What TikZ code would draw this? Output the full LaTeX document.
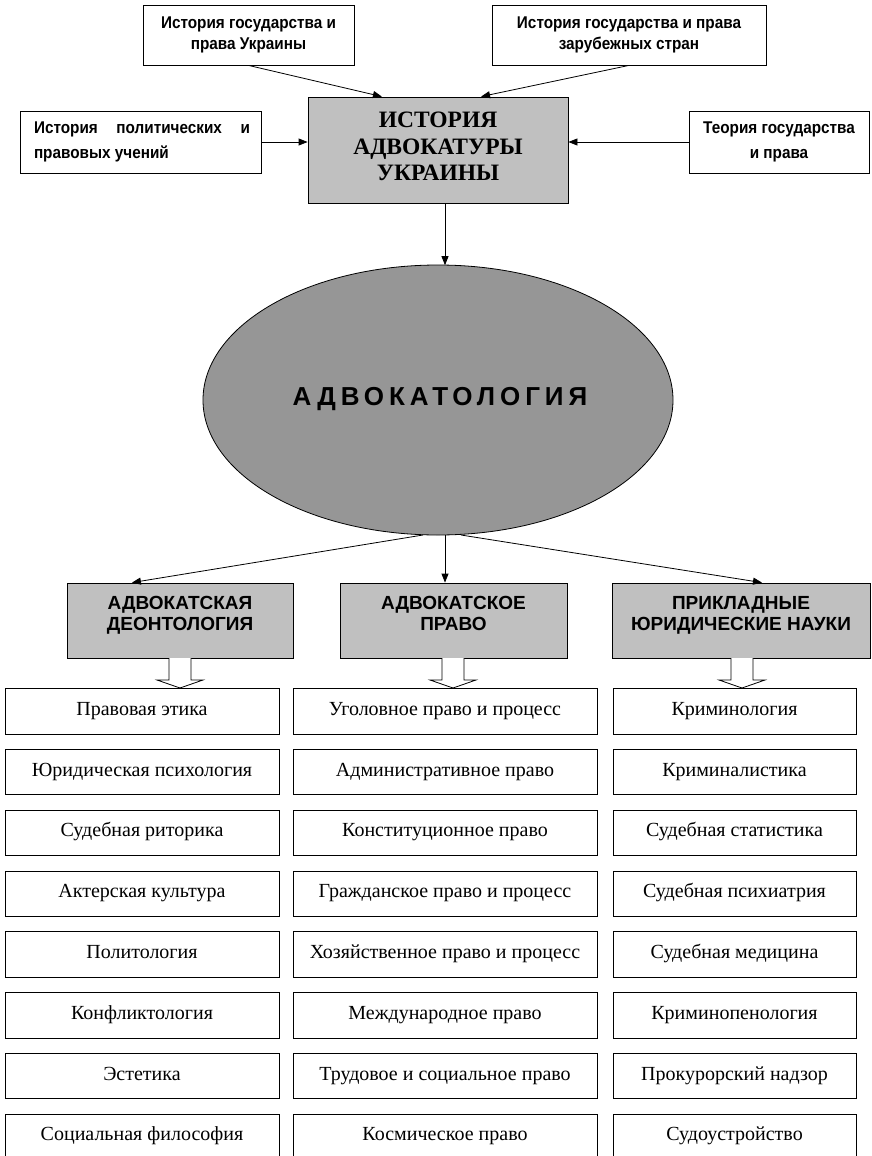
\documentclass[tikz,border=0pt]{standalone}
\usepackage{fontspec}
\setmainfont{Liberation Serif}
\newfontfamily\nsans{Liberation Sans}[FakeStretch=0.9]
\newfontfamily\wsans{Liberation Sans}
\newfontfamily\lsans{Liberation Sans}[LetterSpace=19]
\usetikzlibrary{arrows.meta,calc,shapes.geometric}
\definecolor{boxgray}{RGB}{192,192,192}
\definecolor{ellgray}{RGB}{150,150,150}
\begin{document}
\begin{tikzpicture}[x=1pt,y=-1pt,
  arr/.style={-{Triangle[length=9pt,width=7pt]}, line width=0.8pt},
  topbox/.style={draw, line width=0.8pt, fill=white, inner sep=0pt, align=center,
    font=\nsans\bfseries\fontsize{17}{21}\selectfont},
  sidebox/.style={draw, line width=0.8pt, fill=white, inner sep=0pt, align=center,
    font=\nsans\bfseries\fontsize{17}{25}\selectfont},
  mainbox/.style={draw, line width=0.8pt, fill=boxgray, inner sep=0pt},
  maintext/.style={inner sep=0pt, align=center,
    font=\rmfamily\bfseries\fontsize{23.5}{26.5}\selectfont},
  hdrbox/.style={draw, line width=0.8pt, fill=boxgray, inner sep=0pt, minimum height=75pt},
  hdrtext/.style={inner sep=0pt, align=center,
    font=\wsans\bfseries\fontsize{19}{21}\selectfont},
  item/.style={draw, line width=0.8pt, fill=white, inner sep=0pt, minimum height=45.5pt,
    text height=13pt, text depth=5pt, font=\rmfamily\fontsize{20}{24}\selectfont},
  hollow/.style={draw, line width=0.8pt, fill=white}
]
\useasboundingbox (0,0) rectangle (871,1156);

% top level
\node[topbox, minimum width=211pt, minimum height=60pt] (t1) at (248.5,35)
  {История государства и\\права Украины};
\node[topbox, minimum width=274pt, minimum height=60pt] (t2) at (629,35)
  {История государства и права\\зарубежных стран};
\node[sidebox, minimum width=241pt, minimum height=62pt] (l) at (140.5,142)
  {\parbox{219pt}{\hspace*{3pt}История\hfill политических\hfill и\\\hspace*{3pt}правовых учений}};
\node[sidebox, minimum width=180pt, minimum height=62pt] (r) at (779,142)
  {Теория государства\\и права};
\node[mainbox, minimum width=260pt, minimum height=106pt] (c) at (438,150) {};
\node[maintext] (ct) at (438,149) {\strut ИСТОРИЯ\\\strut АДВОКАТУРЫ\\\strut УКРАИНЫ};

\draw[arr] (t1.south) -- ($(c.north west)!0.285!(c.north east)$);
\draw[arr] (t2.south) -- ($(c.north west)!0.665!(c.north east)$);
\draw[arr] (l.east) -- (l.east -| c.west);
\draw[arr] (r.west) -- (r.west -| c.east);

% ellipse
\node[ellipse, draw, line width=0.8pt, fill=ellgray, inner sep=0pt,
  minimum width=470pt, minimum height=270pt] (e) at (438,400) {};
\node[inner sep=0pt, font=\lsans\bfseries\fontsize{26}{30}\selectfont] (et) at (440,399) {АДВОКАТОЛОГИЯ};
\coordinate (eT) at (445,265.2);
\draw[arr] ([xshift=7pt]c.south) -- (eT);

% headers
\node[hdrbox, minimum width=226pt] (A) at (180,620.5) {};
\node[hdrbox, minimum width=227pt] (B) at (453.5,620.5) {};
\node[hdrbox, minimum width=258pt] (C) at (741,620.5) {};
\node[hdrtext] (At) at (180,615.3) {\strut АДВОКАТСКАЯ\\\strut ДЕОНТОЛОГИЯ};
\node[hdrtext] (Bt) at (453.5,615.3) {\strut АДВОКАТСКОЕ\\\strut ПРАВО};
\node[hdrtext] (Ct) at (741,615.3) {\strut ПРИКЛАДНЫЕ\\\strut ЮРИДИЧЕСКИЕ НАУКИ};

\coordinate (eL) at (423,535);
\coordinate (eM) at (445,535);
\coordinate (eR) at (461,535);
\draw[arr] (eL) -- ($(A.north west)!0.288!(A.north east)$);
\draw[arr] (eM) -- (eM |- B.north);
\draw[arr] (eR) -- ($(C.north west)!0.581!(C.north east)$);

% lists
\foreach \t [count=\i] in {Правовая этика, Юридическая психология, Судебная риторика,
  Актерская культура, Политология, Конфликтология, Эстетика, Социальная философия}
  \node[item, minimum width=274pt] (a\i) at (142,{711.25+60.8*(\i-1)}) {\t};
\foreach \t [count=\i] in {Уголовное право и процесс, Административное право,
  Конституционное право, Гражданское право и процесс, Хозяйственное право и процесс,
  Международное право, Трудовое и социальное право, Космическое право}
  \node[item, minimum width=304pt] (b\i) at (445,{711.25+60.8*(\i-1)}) {\t};
\foreach \t [count=\i] in {Криминология, Криминалистика, Судебная статистика,
  Судебная психиатрия, Судебная медицина, Криминопенология, Прокурорский надзор,
  Судоустройство}
  \node[item, minimum width=243pt] (c\i) at (734.5,{711.25+60.8*(\i-1)}) {\t};

% hollow block arrows
\foreach \h/\x in {A/180, B/453, C/742}
  \draw[hollow] (\x-11,658) -- (\x-11,680) -- (\x-23,680) -- (\x,688)
     -- (\x+23,680) -- (\x+11,680) -- (\x+11,658);
\end{tikzpicture}
\end{document}
